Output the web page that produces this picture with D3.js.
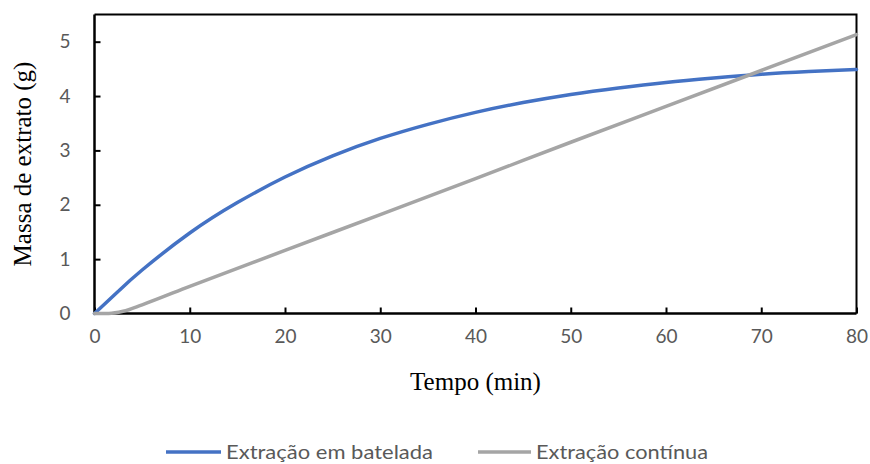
<!DOCTYPE html>
<html>
<head>
<meta charset="utf-8">
<script src="https://cdn.jsdelivr.net/npm/d3@7"></script>
<style>
  html, body { margin: 0; padding: 0; background: #fff; }
  svg { display: block; }
</style>
</head>
<body>
<div id="chart"></div>
<script>
// ---- Data ----
const batchTime   = [0, 2.5, 5, 10, 15, 20, 25, 30, 35, 40, 45, 50, 55, 60, 65, 70, 75, 80];
const batchMass   = [0, 0.41, 0.80, 1.48, 2.04, 2.51, 2.90, 3.22, 3.48, 3.70, 3.88, 4.03, 4.15, 4.25, 4.33, 4.40, 4.45, 4.49];
const contTime    = [0, 1.5, 3, 5, 10, 20, 30, 40, 50, 60, 70, 80];
const contMass    = [0, 0, 0.04, 0.16, 0.5, 1.16, 1.82, 2.48, 3.15, 3.81, 4.47, 5.13];
const xTicks      = [0, 10, 20, 30, 40, 50, 60, 70, 80];
const yTicks      = [0, 1, 2, 3, 4, 5];
const seriesNames = ["Extração em batelada", "Extração contínua"];
const seriesColors = ["#4472C4", "#A5A5A5"];
const xTitle = "Tempo (min)";
const yTitle = "Massa de extrato (g)";

// ---- Layout ----
const W = 870, H = 464;
const plot = { left: 94.5, right: 856.5, top: 14.5, bottom: 313.5 };

const svg = d3.select("#chart").append("svg")
  .attr("width", W).attr("height", H);

const x = d3.scaleLinear().domain([0, 80]).range([plot.left, plot.right]);
const y = d3.scaleLinear().domain([0, 5.5]).range([plot.bottom, plot.top]);

const tickFont = "Lato, 'Noto Sans', sans-serif";
const tickColor = "#595959";

// Plot border (top & right)
svg.append("path")
  .attr("d", `M${plot.left},${plot.top}H${plot.right}V${plot.bottom}`)
  .attr("fill", "none").attr("stroke", "#000").attr("stroke-width", 2);

// Axes with inward ticks
const xAxis = d3.axisBottom(x).tickValues(xTicks).tickFormat(d3.format("d"))
  .tickSizeInner(-6).tickSizeOuter(0).tickPadding(16);
const yAxis = d3.axisLeft(y).tickValues(yTicks).tickFormat(d3.format("d"))
  .tickSizeInner(-6).tickSizeOuter(0).tickPadding(24);

const gx = svg.append("g").attr("transform", `translate(0,${plot.bottom})`).call(xAxis);
const gy = svg.append("g").attr("transform", `translate(${plot.left},0)`).call(yAxis);

[gx, gy].forEach(g => {
  g.select(".domain").attr("stroke", "#000").attr("stroke-width", 2.5);
  g.selectAll(".tick line").attr("stroke", "#000").attr("stroke-width", 2);
  g.selectAll(".tick text")
    .attr("fill", tickColor)
    .style("font-family", tickFont)
    .style("font-size", "19px");
});
gy.select(".domain").attr("d", `M0,${plot.bottom}V${plot.top}`);
gx.select(".domain").attr("d", `M${plot.left},0H${plot.right}`);

// Lines
const series = [
  { t: batchTime, v: batchMass, curve: d3.curveNatural },
  { t: contTime,  v: contMass,  curve: d3.curveMonotoneX }
];

series.forEach((s, i) => {
  const pts = s.t.map((t, j) => [t, s.v[j]]);
  const line = d3.line().x(d => x(d[0])).y(d => y(d[1])).curve(s.curve);
  svg.append("path")
    .datum(pts)
    .attr("d", line)
    .attr("fill", "none")
    .attr("stroke", seriesColors[i])
    .attr("stroke-width", 3.5)
    .attr("stroke-linejoin", "round")
    .attr("stroke-linecap", "round");
});

// Axis titles
svg.append("text")
  .attr("x", (plot.left + plot.right) / 2)
  .attr("y", 390)
  .attr("text-anchor", "middle")
  .style("font-family", "'Liberation Serif', 'Times New Roman', serif")
  .style("font-size", "25px")
  .attr("fill", "#000")
  .text(xTitle);

svg.append("text")
  .attr("transform", `translate(31,${(plot.top + plot.bottom) / 2}) rotate(-90)`)
  .attr("text-anchor", "middle")
  .style("font-family", "'Liberation Serif', 'Times New Roman', serif")
  .style("font-size", "25px")
  .attr("fill", "#000")
  .text(yTitle);

// Legend
const legendItems = [
  { x0: 166, x1: 221, tx: 226, tw: 207 },
  { x0: 478, x1: 531, tx: 536, tw: 172 }
];
legendItems.forEach((L, i) => {
  svg.append("line")
    .attr("x1", L.x0).attr("x2", L.x1)
    .attr("y1", 452).attr("y2", 452)
    .attr("stroke", seriesColors[i]).attr("stroke-width", 3.5);
  svg.append("text")
    .attr("x", L.tx).attr("y", 459)
    .attr("fill", tickColor)
    .style("font-family", tickFont)
    .style("font-size", "19px")
    .attr("textLength", L.tw)
    .attr("lengthAdjust", "spacingAndGlyphs")
    .text(seriesNames[i]);
});
</script>
</body>
</html>
